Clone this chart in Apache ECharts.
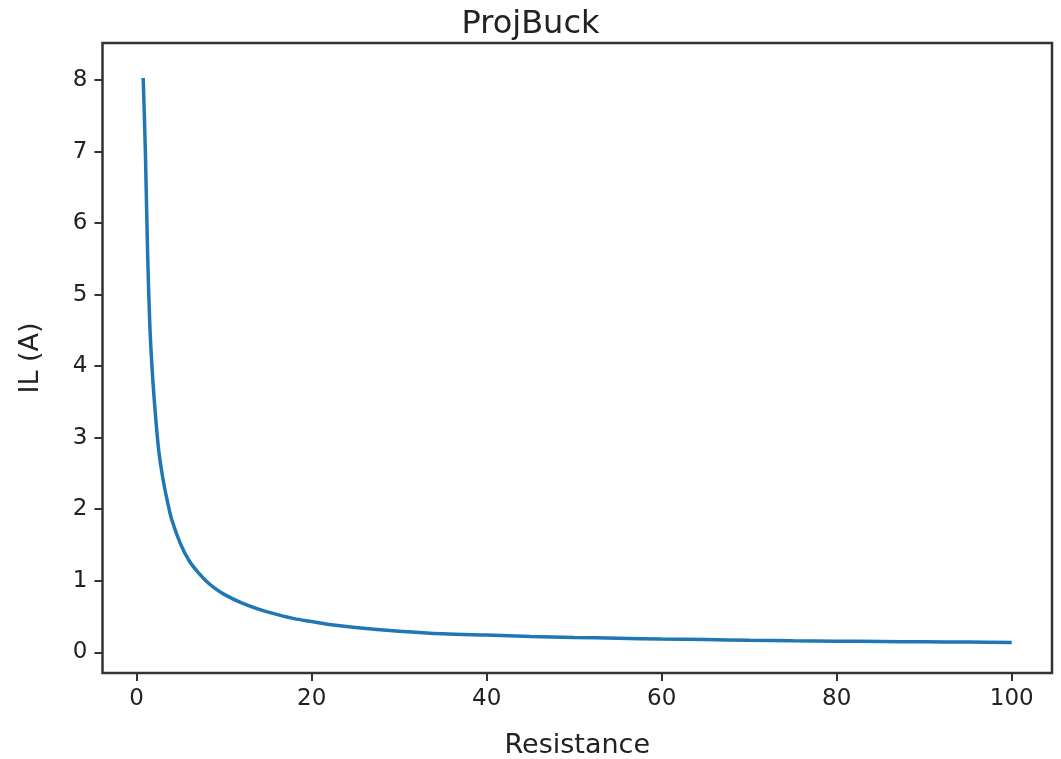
<!DOCTYPE html>
<html>
<head>
<meta charset="utf-8">
<script src="https://cdn.jsdelivr.net/npm/echarts@6/dist/echarts.min.js"></script>
<style>
  html, body { margin: 0; padding: 0; background: #fff; }
  #chart { width: 1061px; height: 759px; }
</style>
</head>
<body>
<div id="chart"></div>
<script>
const titleText = 'ProjBuck';
const xName = 'Resistance';
const yName = 'IL (A)';
const resistance = [0.75, 1.0, 1.25, 1.5, 1.75, 2.0, 2.5, 3.0, 3.5, 4.0, 5.0, 6.0, 7.0, 8.0, 9.0, 10, 12, 14, 16, 18, 20, 22.5, 25, 30, 35, 40, 45, 50, 55, 60, 65, 70, 75, 80, 85, 90, 95, 100];
const current = [8.03, 7.0, 5.6, 4.6, 4.0, 3.55, 2.85, 2.43, 2.12, 1.86, 1.52, 1.28, 1.12, 0.99, 0.89, 0.81, 0.69, 0.60, 0.53, 0.47, 0.43, 0.38, 0.345, 0.295, 0.258, 0.24, 0.222, 0.207, 0.196, 0.185, 0.177, 0.168, 0.160, 0.155, 0.150, 0.146, 0.142, 0.138];
const xTicks = [0, 20, 40, 60, 80, 100];
const yTicks = [0, 1, 2, 3, 4, 5, 6, 7, 8];

const points = resistance.map((r, i) => [r, current[i]]);
const font = 'DejaVu Sans';
const chart = echarts.init(document.getElementById('chart'), null, { renderer: 'canvas' });
chart.setOption({
  backgroundColor: '#ffffff',
  animation: false,
  title: {
    text: titleText, left: 'center', top: 4,
    textStyle: { fontFamily: font, fontSize: 32, fontWeight: 'normal', color: '#222' }
  },
  grid: {
    left: 102.5, right: 9, top: 43, bottom: 86,
    containLabel: false, outerBoundsMode: 'none',
    show: true, borderColor: '#333', borderWidth: 2.5, backgroundColor: '#fff'
  },
  xAxis: {
    type: 'value', min: -3.9, max: 104.6,
    name: xName, nameLocation: 'middle', nameGap: 59,
    nameTextStyle: { fontFamily: font, fontSize: 27, color: '#222' },
    axisLine: { show: false, onZero: false },
    splitLine: { show: false },
    axisTick: { show: true, customValues: xTicks, length: 8, lineStyle: { color: '#333', width: 2 } },
    axisLabel: { customValues: xTicks, margin: 15, fontFamily: font, fontSize: 23, color: '#222' }
  },
  yAxis: {
    type: 'value', min: -0.29, max: 8.52,
    name: yName, nameLocation: 'middle', nameGap: 58, nameRotate: 90,
    nameTextStyle: { fontFamily: font, fontSize: 27, color: '#222' },
    axisLine: { show: false, onZero: false },
    splitLine: { show: false },
    axisTick: { show: true, customValues: yTicks, length: 8, lineStyle: { color: '#333', width: 2 } },
    axisLabel: { customValues: yTicks, margin: 15, fontFamily: font, fontSize: 23, color: '#222' }
  },
  series: [{
    type: 'line', data: points, showSymbol: false, smooth: 0.3,
    lineStyle: { color: '#1f77b4', width: 3.5 }
  }]
});
</script>
</body>
</html>
